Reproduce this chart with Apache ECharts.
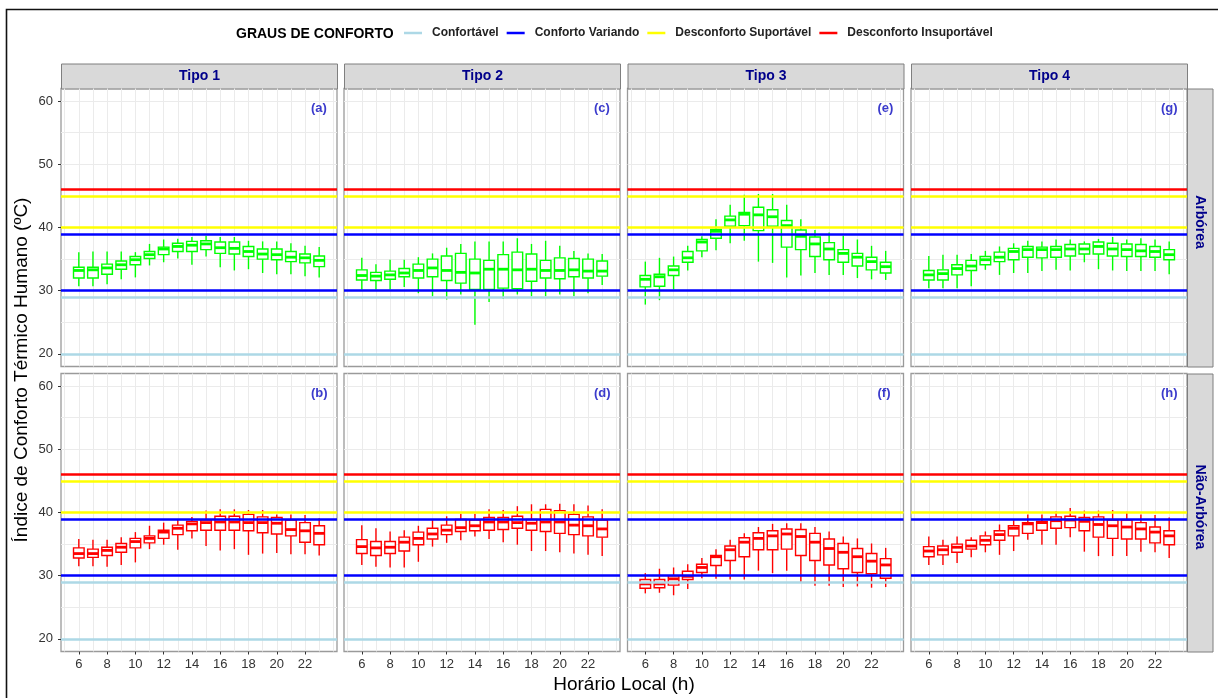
<!DOCTYPE html>
<html>
<head>
<meta charset="utf-8">
<title>Índice de Conforto Térmico Humano</title>
<script src="https://cdn.jsdelivr.net/npm/echarts@6/dist/echarts.min.js"></script>
<style>
html, body { margin: 0; padding: 0; background: #fff; }
#main { width: 1218px; height: 698px; }
</style>
</head>
<body>
<div id="main"></div>
<script>
// eixos
var horas = [6, 7, 8, 9, 10, 11, 12, 13, 14, 15, 16, 17, 18, 19, 20, 21, 22, 23];
var horasGrade = [5, 6, 7, 8, 9, 10, 11, 12, 13, 14, 15, 16, 17, 18, 19, 20, 21, 22, 23, 24];
var horasRotulo = [6, 8, 10, 12, 14, 16, 18, 20, 22];
var gradeY = [20, 25, 30, 35, 40, 45, 50, 55, 60];
var rotulosY = [20, 30, 40, 50, 60];

var tipos = ['Tipo 1', 'Tipo 2', 'Tipo 3', 'Tipo 4'];
var grupos = ['Arbórea', 'Não-Arbórea'];
var letras = [['(a)', '(c)', '(e)', '(g)'], ['(b)', '(d)', '(f)', '(h)']];

// graus de conforto e seus limites (ºC)
var confortoNomes = ['Confortável', 'Conforto Variando', 'Desconforto Suportável', 'Desconforto Insuportável'];
var confortoLimites = [[20, 29], [30, 39], [40, 45], [46]];

// [mín, Q1, mediana, Q3, máx] para cada hora de 6 a 23
var painelA = [ // Tipo 1 - Arbórea
  [30.7,32.0,33.2,33.7,36.1],[30.7,32.0,33.3,33.7,36.2],[31.0,32.6,33.6,34.2,36.2],[31.8,33.4,34.1,34.7,36.2],
  [32.1,34.1,34.9,35.4,36.1],[34.0,35.1,35.7,36.2,37.4],[34.5,35.7,36.6,36.9,38.1],[35.1,36.2,37.0,37.5,38.2],
  [34.1,36.2,37.2,37.8,38.5],[35.4,36.5,37.4,37.9,38.7],[33.7,35.9,36.8,37.7,38.5],[33.2,35.8,36.7,37.7,38.5],
  [33.4,35.4,36.2,37.0,37.9],[32.8,35.0,35.8,36.6,37.8],[32.6,34.9,35.7,36.6,37.8],[32.6,34.6,35.3,36.2,37.5],
  [32.3,34.4,35.2,35.8,37.1],[32.1,33.8,34.8,35.5,36.9]
];
var painelB = [ // Tipo 1 - Não-Arbórea
  [31.5,32.8,33.5,34.4,35.8],[31.5,32.9,33.5,34.2,35.7],[31.4,33.2,34.0,34.5,35.7],[31.7,33.7,34.5,35.1,36.1],
  [32.1,34.4,35.4,35.9,36.9],[34.2,35.2,35.9,36.3,37.9],[34.9,35.9,36.9,37.2,38.4],[34.1,36.5,37.5,38.0,38.8],
  [35.9,37.1,38.2,38.6,39.3],[34.7,37.2,38.4,38.8,40.3],[34.0,37.2,38.5,39.4,40.5],[34.2,37.2,38.5,39.4,40.5],
  [33.3,37.1,38.4,39.7,40.4],[33.5,36.8,38.4,39.3,40.4],[33.6,36.6,38.3,39.2,39.7],[33.4,36.3,37.3,38.8,39.7],
  [33.4,35.3,37.1,38.4,39.6],[33.2,34.9,36.7,37.9,39.1]
];
var painelC = [ // Tipo 2 - Arbórea
  [30.2,31.7,32.4,33.3,35.2],[30.2,31.6,32.3,32.9,34.2],[30.2,31.8,32.5,33.1,34.9],[30.6,32.2,32.8,33.5,34.9],
  [29.6,32.0,33.2,34.2,35.3],[29.1,32.2,33.6,35.0,35.9],[28.6,31.6,33.2,35.5,36.8],[29.4,31.2,32.9,35.9,37.4],
  [24.6,30.2,32.8,35.0,37.8],[28.2,30.2,33.4,34.8,37.8],[28.7,30.4,33.4,35.7,37.8],[29.4,30.3,33.3,36.1,38.3],
  [29.1,31.5,33.4,35.8,37.4],[29.1,32.0,33.2,34.8,37.9],[29.4,31.9,33.2,35.2,37.1],[29.1,32.2,33.3,35.1,36.3],
  [29.6,32.0,33.1,35.0,35.9],[30.9,32.3,33.1,34.7,35.8]
];
var painelD = [ // Tipo 2 - Não-Arbórea
  [31.7,33.5,34.6,35.7,38.0],[31.4,33.2,34.4,35.4,37.5],[31.3,33.5,34.5,35.4,37.0],[31.3,33.9,35.3,36.1,37.2],
  [32.2,34.9,35.9,36.9,37.9],[34.6,35.8,36.6,37.5,38.8],[35.2,36.5,37.2,38.0,39.4],[35.6,37.0,37.6,38.9,39.8],
  [36.2,37.1,37.9,38.8,39.8],[35.8,37.2,38.5,39.2,40.5],[35.3,37.3,38.5,39.2,40.4],[34.9,37.5,38.4,39.4,41.0],
  [33.9,37.2,38.3,38.9,41.3],[33.9,37.0,38.5,40.5,41.3],[33.7,36.7,38.5,40.3,41.4],[33.5,36.5,38.0,39.7,41.3],
  [33.3,36.3,37.9,39.3,41.1],[33.1,36.1,37.4,38.8,40.5]
];
var painelE = [ // Tipo 3 - Arbórea
  [27.8,30.6,31.8,32.4,34.6],[28.5,30.7,32.2,32.6,35.2],[30.2,32.4,33.3,33.9,35.4],[33.2,34.5,35.2,36.2,37.1],
  [35.3,36.3,37.7,38.1,38.6],[36.4,38.3,39.4,39.7,41.3],[37.5,40.2,41.2,41.8,43.6],[37.9,40.3,42.1,42.4,45.2],
  [34.6,39.5,42.0,43.2,45.3],[34.4,40.2,41.7,42.8,45.3],[32.1,36.9,40.3,41.1,43.6],[32.4,36.5,38.6,39.6,41.3],
  [32.8,35.4,37.4,38.5,39.6],[32.5,34.9,36.6,37.6,39.2],[32.5,34.5,35.9,36.5,38.7],[32.0,33.9,35.3,35.9,38.1],
  [31.8,33.3,34.6,35.3,37.1],[31.7,32.8,33.8,34.5,36.3]
];
var painelF = [ // Tipo 3 - Não-Arbórea
  [27.2,28.0,28.7,29.4,30.4],[27.3,28.1,28.7,29.4,31.1],[26.9,28.5,29.5,30.0,31.3],[27.9,29.4,29.9,30.7,31.8],
  [29.6,30.5,31.3,31.8,32.8],[29.5,31.6,33.0,33.2,34.2],[29.4,32.4,34.1,34.7,35.7],[29.4,33.0,35.3,36.0,36.7],
  [30.8,34.1,35.9,36.8,37.7],[30.4,34.1,36.3,37.1,38.2],[30.8,34.2,36.6,37.4,38.3],[28.9,33.2,36.2,37.3,38.3],
  [28.4,32.4,35.3,36.7,37.7],[28.4,31.7,34.3,35.8,37.0],[28.2,31.1,33.7,35.1,36.2],[28.3,30.5,33.0,34.3,35.9],
  [28.1,30.3,32.3,33.5,35.1],[28.2,29.6,31.7,32.7,34.4]
];
var painelG = [ // Tipo 4 - Arbórea
  [30.4,31.7,32.5,33.2,35.5],[30.4,31.7,32.7,33.3,35.7],[30.4,32.5,33.5,34.1,35.7],[30.7,33.2,33.9,34.8,35.8],
  [33.3,34.1,34.9,35.4,36.3],[32.5,34.6,35.3,36.1,37.0],[32.8,34.9,36.2,36.7,37.5],[32.8,35.3,36.5,37.0,37.9],
  [33.1,35.2,36.5,36.9,37.8],[33.3,35.3,36.5,37.0,38.1],[33.2,35.5,36.6,37.3,38.1],[34.5,35.8,36.6,37.4,37.8],
  [33.4,35.8,37.0,37.7,38.2],[33.2,35.5,36.6,37.5,38.5],[33.1,35.4,36.5,37.4,38.1],[33.1,35.4,36.3,37.3,38.3],
  [33.1,35.3,36.2,37.0,38.1],[32.6,34.9,35.7,36.5,37.8]
];
var painelH = [ // Tipo 4 - Não-Arbórea
  [31.7,33.0,33.9,34.6,36.2],[31.7,33.3,34.1,34.7,35.7],[32.0,33.7,34.5,35.0,36.2],[32.9,34.2,34.7,35.6,36.1],
  [33.7,34.9,35.6,36.3,37.0],[33.3,35.6,36.5,37.1,38.1],[33.9,36.3,37.5,37.9,38.8],[35.7,36.7,38.2,38.4,39.7],
  [34.9,37.2,38.4,38.6,39.7],[34.9,37.5,38.7,39.3,40.2],[36.1,37.6,38.8,39.4,40.7],[33.8,37.1,38.6,39.2,40.3],
  [33.1,36.1,38.1,39.3,40.3],[33.1,35.9,37.9,38.8,40.4],[33.1,35.8,37.7,38.8,40.1],[33.8,35.8,37.4,38.4,39.7],
  [33.7,35.2,36.9,37.7,39.6],[32.8,34.9,36.3,37.1,39.2]
];

var paineis = [[painelA, painelC, painelE, painelG], [painelB, painelD, painelF, painelH]];

// aparência
var fonte = 'Liberation Sans, Arial, sans-serif';
var confortoCores = ['#add8e6', '#0000ff', '#ffff00', '#ff0000'];
var corBox = ['#00ff00', '#ff0000']; // linha de cima verde, de baixo vermelha
var colEsq = [61, 344, 627.5, 911];
var largPainel = 276;
var linTopo = [88.5, 373.5];
var altPainel = 278;

var myChart = echarts.init(document.getElementById('main'));

function fazBox(cor) {
  return function (params, api) {
    var x = api.value(0);
    var pMin = api.coord([x, api.value(1)]);
    var pQ1 = api.coord([x, api.value(2)]);
    var pMed = api.coord([x, api.value(3)]);
    var pQ3 = api.coord([x, api.value(4)]);
    var pMax = api.coord([x, api.value(5)]);
    var meia = api.size([0.75, 0])[0] / 2;
    return {
      type: 'group',
      children: [
        {type: 'line', shape: {x1: pMin[0], y1: pMin[1], x2: pQ1[0], y2: pQ1[1]}, style: {stroke: cor, lineWidth: 1.4}},
        {type: 'line', shape: {x1: pQ3[0], y1: pQ3[1], x2: pMax[0], y2: pMax[1]}, style: {stroke: cor, lineWidth: 1.4}},
        {type: 'rect', shape: {x: pQ3[0] - meia, y: pQ3[1], width: meia * 2, height: pQ1[1] - pQ3[1]},
          style: {fill: '#fff', stroke: cor, lineWidth: 1.4}},
        {type: 'line', shape: {x1: pMed[0] - meia, y1: pMed[1], x2: pMed[0] + meia, y2: pMed[1]},
          style: {stroke: cor, lineWidth: 2.8}}
      ]
    };
  };
}

// linhas de referência
var linhasRef = [];
for (var i = 0; i < confortoLimites.length; i++) {
  for (var j = 0; j < confortoLimites[i].length; j++) {
    linhasRef.push({yAxis: confortoLimites[i][j], lineStyle: {color: confortoCores[i]}});
  }
}

var grids = [], xAxes = [], yAxes = [], series = [], graficos = [];

for (var r = 0; r < 2; r++) {
  for (var c = 0; c < 4; c++) {
    var k = r * 4 + c;
    grids.push({
      left: colEsq[c], top: linTopo[r], width: largPainel, height: altPainel,
      show: true, backgroundColor: '#fff', borderColor: '#9a9a9a', borderWidth: 1.3
    });
    xAxes.push({
      type: 'value', gridIndex: k, min: 4.74, max: 24.26,
      axisLine: {show: false},
      axisTick: {show: false, customValues: horasGrade},
      splitLine: {show: true, lineStyle: {color: '#ebebeb', width: 1}},
      axisLabel: {show: r === 1, customValues: horasRotulo, fontSize: 13, color: '#333', margin: 6, fontFamily: fonte}
    });
    yAxes.push({
      type: 'value', gridIndex: k, min: 18, max: 62,
      axisLine: {show: false},
      axisTick: {show: false, customValues: gradeY},
      splitLine: {show: true, lineStyle: {color: '#ebebeb', width: 1}},
      axisLabel: {show: c === 0, customValues: rotulosY, fontSize: 13, color: '#333', margin: 8, fontFamily: fonte}
    });

    var dados = [];
    for (var h = 0; h < horas.length; h++) {
      dados.push([horas[h]].concat(paineis[r][c][h]));
    }
    series.push({
      type: 'custom',
      xAxisIndex: k, yAxisIndex: k,
      renderItem: fazBox(corBox[r]),
      encode: {x: 0, y: [1, 2, 3, 4, 5]},
      data: dados,
      silent: true,
      markLine: {
        silent: true, symbol: ['none', 'none'], label: {show: false},
        lineStyle: {width: 2.6, type: 'solid'},
        animation: false,
        data: linhasRef
      }
    });

    // letra do painel
    graficos.push({
      type: 'text', left: colEsq[c] + largPainel - 26, top: linTopo[r] + 13, z: 50,
      style: {text: letras[r][c], fill: '#3b3bcc', font: 'bold 13px ' + fonte}
    });
  }
}

// eixos extras só para as marcas de tique (como no ggplot, só nos valores rotulados)
for (var c3 = 0; c3 < 4; c3++) {
  xAxes.push({
    type: 'value', gridIndex: 4 + c3, min: 4.74, max: 24.26, position: 'bottom',
    axisLine: {show: false}, splitLine: {show: false}, axisLabel: {show: false},
    axisTick: {show: true, customValues: horasRotulo, length: 3, lineStyle: {color: '#333', width: 1}}
  });
}
for (var r3 = 0; r3 < 2; r3++) {
  yAxes.push({
    type: 'value', gridIndex: r3 * 4, min: 18, max: 62, position: 'left',
    axisLine: {show: false}, splitLine: {show: false}, axisLabel: {show: false},
    axisTick: {show: true, customValues: rotulosY, length: 3, lineStyle: {color: '#333', width: 1}}
  });
}

// faixas dos tipos (topo)
for (var c2 = 0; c2 < 4; c2++) {
  graficos.push({
    type: 'group', left: colEsq[c2], top: 63.5, z: 50,
    children: [
      {type: 'rect', shape: {x: 0, y: 0, width: largPainel, height: 25}, style: {fill: '#d9d9d9', stroke: '#7f7f7f', lineWidth: 1}},
      {type: 'text', x: largPainel / 2, y: 12.5,
        style: {text: tipos[c2], fill: '#00008b', font: 'bold 14px ' + fonte, align: 'center', verticalAlign: 'middle'}}
    ]
  });
}
// faixas dos grupos (direita)
for (var r2 = 0; r2 < 2; r2++) {
  graficos.push({
    type: 'group', left: 1187, top: linTopo[r2], z: 50,
    children: [
      {type: 'rect', shape: {x: 0, y: 0, width: 25.5, height: altPainel}, style: {fill: '#d9d9d9', stroke: '#7f7f7f', lineWidth: 1}},
      {type: 'text', x: 12.75, y: altPainel / 2 - 6, rotation: -Math.PI / 2,
        style: {text: grupos[r2], fill: '#00008b', font: 'bold 14px ' + fonte, align: 'center', verticalAlign: 'middle'}}
    ]
  });
}
// títulos dos eixos, moldura e título da legenda
graficos.push(
  {type: 'text', x: 22, y: 370, rotation: Math.PI / 2,
    style: {text: 'Índice de Conforto Térmico Humano (ºC)', fill: '#000', font: '19px ' + fonte, align: 'center', verticalAlign: 'middle'}},
  {type: 'text', x: 624, y: 685,
    style: {text: 'Horário Local (h)', fill: '#000', font: '19px ' + fonte, align: 'center', verticalAlign: 'middle'}},
  {type: 'text', x: 236, y: 34,
    style: {text: 'GRAUS DE CONFORTO', fill: '#000', font: 'bold 14px ' + fonte, align: 'left', verticalAlign: 'middle'}},
  {type: 'rect', shape: {x: 6.5, y: 9.5, width: 1230, height: 720}, style: {fill: 'none', stroke: '#111', lineWidth: 1.6}, z: 100}
);

// séries vazias só para a legenda
for (var n = 0; n < confortoNomes.length; n++) {
  series.push({type: 'line', name: confortoNomes[n], data: [], color: confortoCores[n], xAxisIndex: 0, yAxisIndex: 0});
}

var option = {
  animation: false,
  textStyle: {fontFamily: fonte},
  legend: {
    left: 404, top: 27, padding: 0, icon: 'rect', itemWidth: 18, itemHeight: 2.5, itemGap: 8,
    data: confortoNomes,
    textStyle: {fontSize: 12, fontWeight: 'bold', color: '#222', padding: [0, 0, 0, 5], fontFamily: fonte},
    selectedMode: false
  },
  grid: grids,
  xAxis: xAxes,
  yAxis: yAxes,
  series: series,
  graphic: graficos
};
myChart.setOption(option);
</script>
</body>
</html>
